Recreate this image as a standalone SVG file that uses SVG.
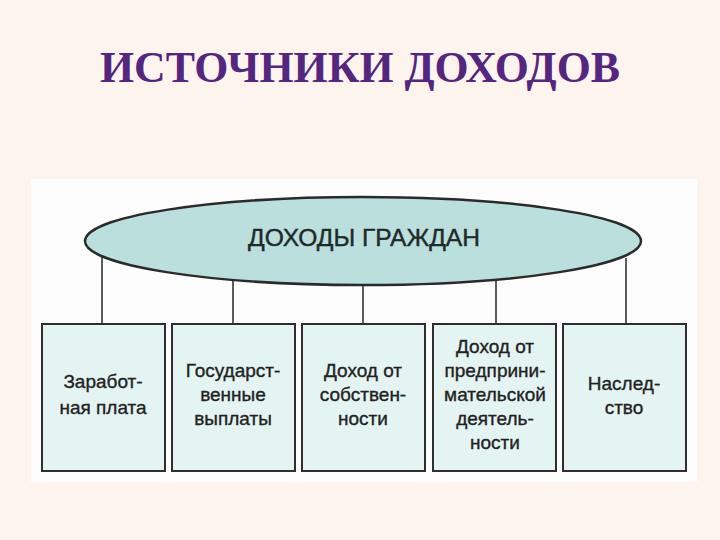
<svg xmlns="http://www.w3.org/2000/svg" width="720" height="540" viewBox="0 0 720 540">
<style>
.box{fill:#e4f4f3;stroke:#2e2e2e;stroke-width:2}
.t{font-family:"Liberation Sans",Arial,sans-serif;font-size:19px;fill:#222;stroke:#222;stroke-width:0.35;text-anchor:middle}
.c{stroke:#333;stroke-width:1.6;fill:none}
</style>
<rect x="0" y="0" width="720" height="540" fill="#fdf4ee"/>
<text x="360" y="82" font-family="'Liberation Serif','Times New Roman',serif" font-size="44" font-weight="bold" fill="#55267f" text-anchor="middle" textLength="520" lengthAdjust="spacingAndGlyphs">ИСТОЧНИКИ ДОХОДОВ</text>
<rect x="31" y="179" width="666" height="303" fill="#fcfdfc"/>
<g id="connectors">
<line class="c" x1="102" y1="255" x2="102" y2="324"/>
<line class="c" x1="233" y1="276" x2="233" y2="324"/>
<line class="c" x1="363" y1="285" x2="363" y2="324"/>
<line class="c" x1="496" y1="278" x2="496" y2="324"/>
<line class="c" x1="626" y1="258" x2="626" y2="324"/>
</g>
<g id="root">
<ellipse cx="363" cy="241" rx="278" ry="44" fill="#badfdc" stroke="#2a2a2a" stroke-width="2.5"/>
<text x="364" y="246" font-family="'Liberation Sans',Arial,sans-serif" font-size="24" fill="#1f2a28" stroke="#1f2a28" stroke-width="0.4" text-anchor="middle" textLength="232" lengthAdjust="spacingAndGlyphs">ДОХОДЫ ГРАЖДАН</text>
</g>
<g id="n1">
<rect class="box" x="42" y="324" width="123" height="147"/>
<text class="t" x="103" y="388">Заработ-</text>
<text class="t" x="103" y="414">ная плата</text>
</g>
<g id="n2">
<rect class="box" x="172" y="324" width="123" height="147"/>
<text class="t" x="233" y="377">Государст-</text>
<text class="t" x="233" y="401">венные</text>
<text class="t" x="233" y="425">выплаты</text>
</g>
<g id="n3">
<rect class="box" x="302" y="324" width="123" height="147"/>
<text class="t" x="363" y="377">Доход от</text>
<text class="t" x="363" y="401">собствен-</text>
<text class="t" x="363" y="425">ности</text>
</g>
<g id="n4">
<rect class="box" x="433" y="324" width="123" height="147"/>
<text class="t" x="495" y="353">Доход от</text>
<text class="t" x="495" y="377">предприни-</text>
<text class="t" x="495" y="401">мательской</text>
<text class="t" x="495" y="425">деятель-</text>
<text class="t" x="495" y="449">ности</text>
</g>
<g id="n5">
<rect class="box" x="563" y="324" width="123" height="147"/>
<text class="t" x="624" y="390">Наслед-</text>
<text class="t" x="624" y="414">ство</text>
</g>
</svg>
